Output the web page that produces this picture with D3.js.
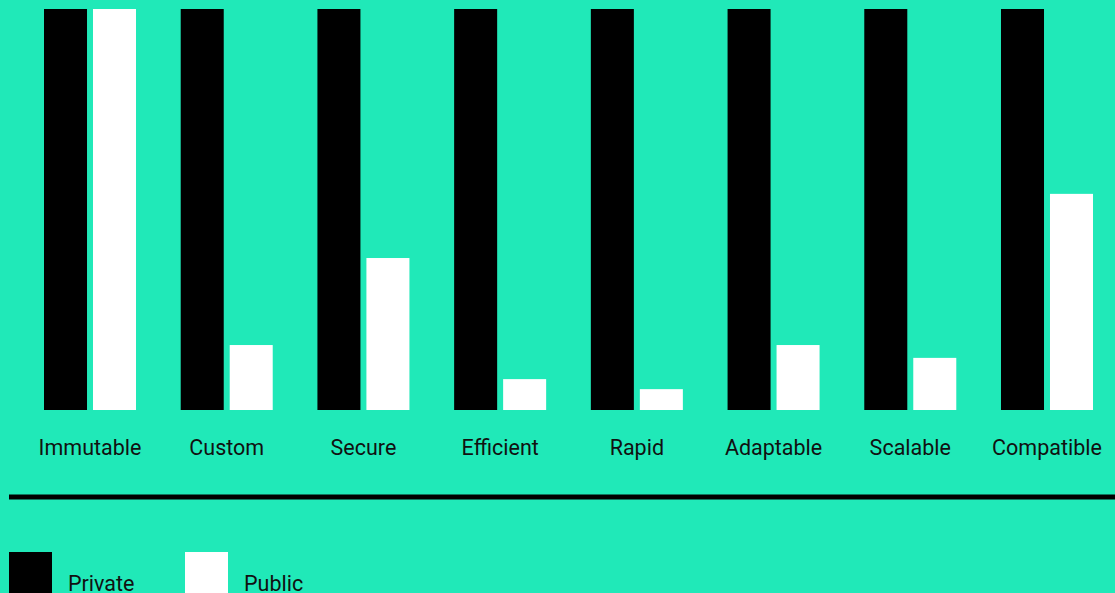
<!DOCTYPE html>
<html>
<head>
<meta charset="utf-8">
<script src="https://cdn.jsdelivr.net/npm/d3@7"></script>
<style>
  html, body { margin: 0; padding: 0; background: #20e9b8; overflow: hidden; }
  svg { display: block; font-family: Roboto, sans-serif; }
</style>
</head>
<body>
<div id="chart"></div>
<script>
// --- data ---
const categories = ["Immutable", "Custom", "Secure", "Efficient", "Rapid", "Adaptable", "Scalable", "Compatible"];
const seriesKeys = ["Private", "Public"];
const privateValues = [100, 100, 100, 100, 100, 100, 100, 100];
const publicValues  = [100, 16.2, 37.9, 7.7, 5.2, 16.2, 13, 53.9];

const colors = { Private: "#000000", Public: "#ffffff" };

// --- sizing ---
const width = 1115, height = 593;

const svg = d3.select("#chart")
  .append("svg")
  .attr("width", width)
  .attr("height", height);

svg.append("rect")
  .attr("width", width)
  .attr("height", height)
  .attr("fill", "#20e9b8");

// --- scales ---
const x0 = d3.scaleBand()
  .domain(categories)
  .range([44, 1093])
  .paddingInner(0.327)
  .paddingOuter(0);

const x1 = d3.scaleBand()
  .domain(seriesKeys)
  .range([0, x0.bandwidth()])
  .paddingInner(0.122);

const y = d3.scaleLinear()
  .domain([0, 100])
  .range([410, 9]);

const rows = categories.map((c, i) => ({
  cat: c,
  values: [
    { key: "Private", value: privateValues[i] },
    { key: "Public",  value: publicValues[i] }
  ]
}));

// --- bars ---
const groups = svg.selectAll(".group")
  .data(rows)
  .enter()
  .append("g")
  .attr("class", "group")
  .attr("transform", d => `translate(${x0(d.cat)},0)`);

groups.selectAll("rect")
  .data(d => d.values)
  .enter()
  .append("rect")
  .attr("x", d => x1(d.key))
  .attr("y", d => y(d.value))
  .attr("width", x1.bandwidth())
  .attr("height", d => y(0) - y(d.value))
  .attr("fill", d => colors[d.key]);

// category labels (axis without line/ticks)
const xAxis = svg.append("g")
  .attr("transform", "translate(0,410)")
  .call(d3.axisBottom(x0).tickSize(0).tickPadding(30));
xAxis.select(".domain").remove();
xAxis.selectAll("text")
  .attr("fill", "#111")
  .style("font-size", "21.5px")
  .style("font-family", "Roboto, sans-serif");

// separator line
svg.append("line")
  .attr("x1", 9)
  .attr("x2", width)
  .attr("y1", 497)
  .attr("y2", 497)
  .attr("stroke", "#000")
  .attr("stroke-width", 5);

// --- legend (cut by bottom edge, as in the original) ---
const legendX = { Private: 9, Public: 185 };
const legend = svg.selectAll(".legend")
  .data(seriesKeys)
  .enter()
  .append("g")
  .attr("class", "legend")
  .attr("transform", d => `translate(${legendX[d]},552)`);

legend.append("rect")
  .attr("width", 43)
  .attr("height", 43)
  .attr("fill", d => colors[d]);

legend.append("text")
  .attr("x", 59)
  .attr("y", 39)
  .attr("fill", "#111")
  .style("font-size", "21.5px")
  .text(d => d);
</script>
</body>
</html>
